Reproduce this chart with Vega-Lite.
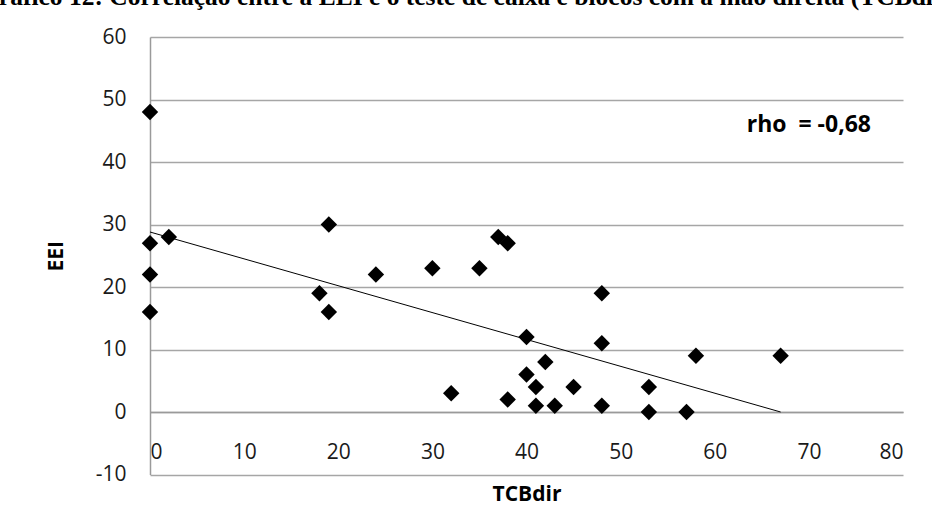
{
  "$schema": "https://vega.github.io/schema/vega-lite/v6.json",
  "autosize": {"type": "none"},
  "width": 753,
  "height": 437.5,
  "padding": {"left": 150, "top": 37, "right": 29, "bottom": 55.5},
  "background": "white",
  "title": {
    "text": "Gráfico 12: Correlação entre a EEI e o teste de caixa e blocos com a mão direita (TCBdir)",
    "anchor": "start",
    "frame": "group",
    "dx": -171,
    "dy": 22,
    "offset": 18,
    "baseline": "alphabetic",
    "font": "Liberation Serif",
    "fontSize": 25.5,
    "fontWeight": "bold",
    "color": "#000000"
  },
  "config": {
    "view": {"stroke": null},
    "axis": {
      "labelFont": "Open Sans",
      "titleFont": "Open Sans",
      "labelColor": "#1a1a1a",
      "titleColor": "#000000",
      "labelFontSize": 21,
      "titleFontSize": 21,
      "titleFontWeight": "bold",
      "ticks": false,
      "domainColor": "#9a9a9a",
      "gridColor": "#a6a6a6",
      "domainWidth": 1.5,
      "gridWidth": 1.5,
      "labelExpr": "'' + datum.value"
    }
  },
  "layer": [
    {
      "data": {"values": [
        {"TCBdir": 0, "EEI": 48}, {"TCBdir": 0, "EEI": 27}, {"TCBdir": 0, "EEI": 22}, {"TCBdir": 0, "EEI": 16},
        {"TCBdir": 2, "EEI": 28}, {"TCBdir": 18, "EEI": 19}, {"TCBdir": 19, "EEI": 30}, {"TCBdir": 19, "EEI": 16},
        {"TCBdir": 24, "EEI": 22}, {"TCBdir": 30, "EEI": 23}, {"TCBdir": 35, "EEI": 23}, {"TCBdir": 32, "EEI": 3},
        {"TCBdir": 37, "EEI": 28}, {"TCBdir": 38, "EEI": 27}, {"TCBdir": 38, "EEI": 2}, {"TCBdir": 40, "EEI": 12},
        {"TCBdir": 40, "EEI": 6}, {"TCBdir": 41, "EEI": 4}, {"TCBdir": 41, "EEI": 1}, {"TCBdir": 42, "EEI": 8},
        {"TCBdir": 43, "EEI": 1}, {"TCBdir": 45, "EEI": 4}, {"TCBdir": 48, "EEI": 19}, {"TCBdir": 48, "EEI": 11},
        {"TCBdir": 48, "EEI": 1}, {"TCBdir": 53, "EEI": 4}, {"TCBdir": 53, "EEI": 0}, {"TCBdir": 57, "EEI": 0},
        {"TCBdir": 58, "EEI": 9}, {"TCBdir": 67, "EEI": 9}
      ]},
      "mark": {"type": "point", "shape": "diamond", "filled": true, "color": "#000000", "size": 270, "opacity": 1},
      "encoding": {
        "x": {
          "field": "TCBdir", "type": "quantitative",
          "scale": {"domain": [0, 80], "nice": false, "zero": false},
          "axis": {"values": [0, 10, 20, 30, 40, 50, 60, 70, 80], "grid": false, "offset": -62.5, "labelPadding": 29, "titlePadding": 21, "title": "TCBdir"}
        },
        "y": {
          "field": "EEI", "type": "quantitative",
          "scale": {"domain": [-10, 60], "nice": false, "zero": false},
          "axis": {"values": [-10, 0, 10, 20, 30, 40, 50, 60], "grid": true, "labelPadding": 24, "titlePadding": 29, "title": "EEI"}
        }
      }
    },
    {
      "data": {"values": [{"TCBdir": 0, "EEI": 28.8}, {"TCBdir": 67, "EEI": 0}]},
      "mark": {"type": "line", "color": "#000000", "strokeWidth": 1},
      "encoding": {
        "x": {"field": "TCBdir", "type": "quantitative"},
        "y": {"field": "EEI", "type": "quantitative"}
      }
    },
    {
      "data": {"values": [{"TCBdir": 70, "EEI": 46, "label": "rho\u00a0\u00a0= -0,68"}]},
      "mark": {"type": "text", "font": "Open Sans", "fontSize": 23, "fontWeight": "bold", "color": "#000000", "align": "center", "baseline": "middle"},
      "encoding": {
        "x": {"field": "TCBdir", "type": "quantitative"},
        "y": {"field": "EEI", "type": "quantitative"},
        "text": {"field": "label"}
      }
    }
  ]
}
